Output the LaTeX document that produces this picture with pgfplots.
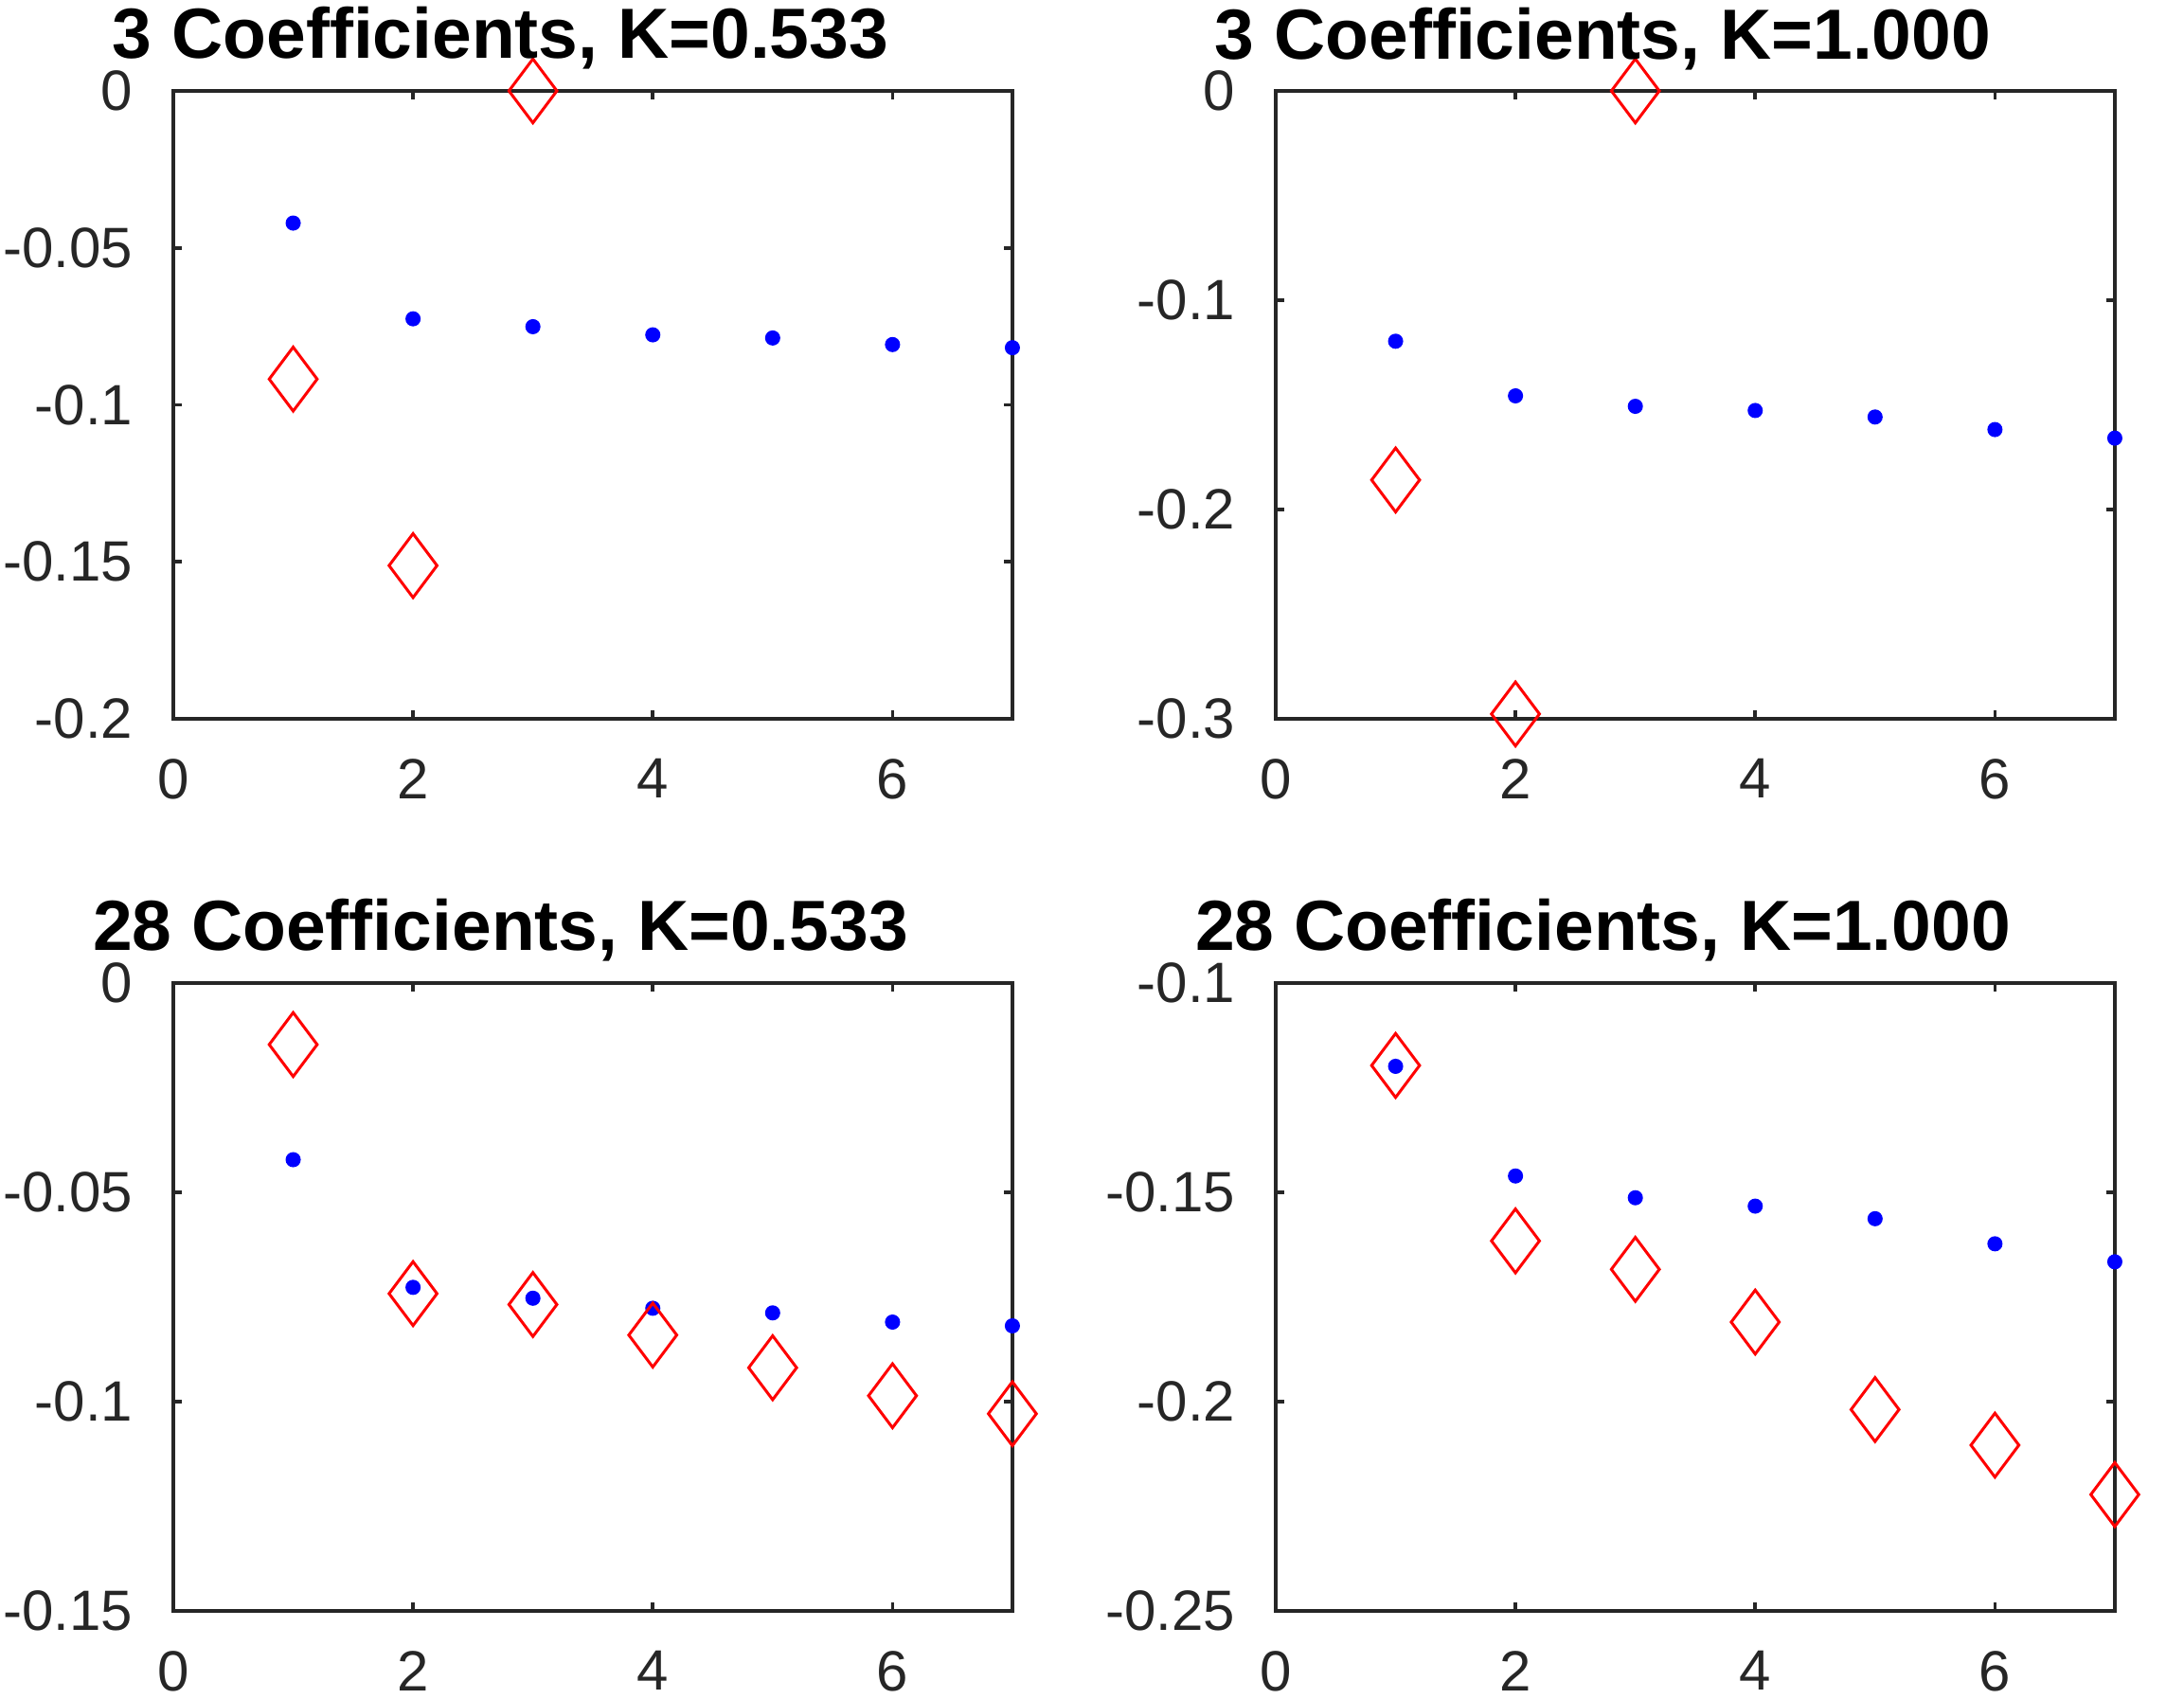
\documentclass[border=0pt]{standalone}
\usepackage{pgfplots}
\pgfplotsset{compat=1.18}
\usepackage{fontspec}
\setmainfont{Liberation Sans}
\definecolor{axgray}{gray}{0.15}
\pgfplotsset{
 panel/.style={
  scale only axis, width=177.2pt, height=132.6pt, anchor=south west,
  xmin=0, xmax=7, xtick={0,2,4,6},
  tick align=inside, major tick length=1.8pt,
  axis line style={axgray, line width=0.75pt},
  every tick/.style={axgray, line width=0.75pt},
  tick label style={font=\fontsize{12}{14}\selectfont, color=axgray},
  xticklabel style={yshift=-5pt},
  yticklabel style={xshift=-5pt},
  /pgf/number format/assume math mode=true,
  title style={at={(0.39,1)}, anchor=base, yshift=0.8pt, font=\fontsize{15}{18}\selectfont\bfseries, text=black},
  clip=false,
 },
 bdot/.style={only marks, mark=*, mark size=1.4pt, mark options={draw=blue, fill=blue}},
 rdia/.style={only marks, mark=diamond, mark size=6.75pt, mark options={draw=red, fill=none, line width=0.6pt}},
}
\begin{document}
\begin{tikzpicture}
\useasboundingbox (0,0) rectangle (461.2pt,358.8pt);
% top left
\begin{axis}[panel, at={(36.6pt,207pt)}, ymin=-0.2, ymax=0,
  ytick={-0.2,-0.15,-0.1,-0.05,0}, yticklabels={-0.2,-0.15,-0.1,-0.05,0},
  title={3 Coefficients, K=0.533}]
\addplot[bdot] coordinates {(1,-0.0421) (2,-0.0726) (3,-0.0751) (4,-0.0777) (5,-0.0787) (6,-0.0808) (7,-0.0818)};
\addplot[rdia] coordinates {(1,-0.0918) (2,-0.1512) (3,0)};
\end{axis}
% top right
\begin{axis}[panel, at={(269.4pt,207pt)}, ymin=-0.3, ymax=0,
  ytick={-0.3,-0.2,-0.1,0}, yticklabels={-0.3,-0.2,-0.1,0},
  title={3 Coefficients, K=1.000}]
\addplot[bdot] coordinates {(1,-0.1196) (2,-0.1457) (3,-0.1507) (4,-0.1527) (5,-0.1558) (6,-0.1618) (7,-0.1659)};
\addplot[rdia] coordinates {(1,-0.1859) (2,-0.2977) (3,0)};
\end{axis}
% bottom left
\begin{axis}[panel, at={(36.6pt,18.6pt)}, ymin=-0.15, ymax=0,
  ytick={-0.15,-0.1,-0.05,0}, yticklabels={-0.15,-0.1,-0.05,0},
  title={28 Coefficients, K=0.533}]
\addplot[bdot] coordinates {(1,-0.0422) (2,-0.0727) (3,-0.0753) (4,-0.0777) (5,-0.0788) (6,-0.0810) (7,-0.0819)};
\addplot[rdia] coordinates {(1,-0.0147) (2,-0.0742) (3,-0.0768) (4,-0.0841) (5,-0.0919) (6,-0.0986) (7,-0.1029)};
\end{axis}
% bottom right
\begin{axis}[panel, at={(269.4pt,18.6pt)}, ymin=-0.25, ymax=-0.1,
  ytick={-0.25,-0.2,-0.15,-0.1}, yticklabels={-0.25,-0.2,-0.15,-0.1},
  title={28 Coefficients, K=1.000}]
\addplot[bdot] coordinates {(1,-0.1199) (2,-0.1461) (3,-0.1513) (4,-0.1533) (5,-0.1563) (6,-0.1623) (7,-0.1666)};
\addplot[rdia] coordinates {(1,-0.1197) (2,-0.1616) (3,-0.1684) (4,-0.1810) (5,-0.2019) (6,-0.2104) (7,-0.2222)};
\end{axis}
\end{tikzpicture}
\end{document}
